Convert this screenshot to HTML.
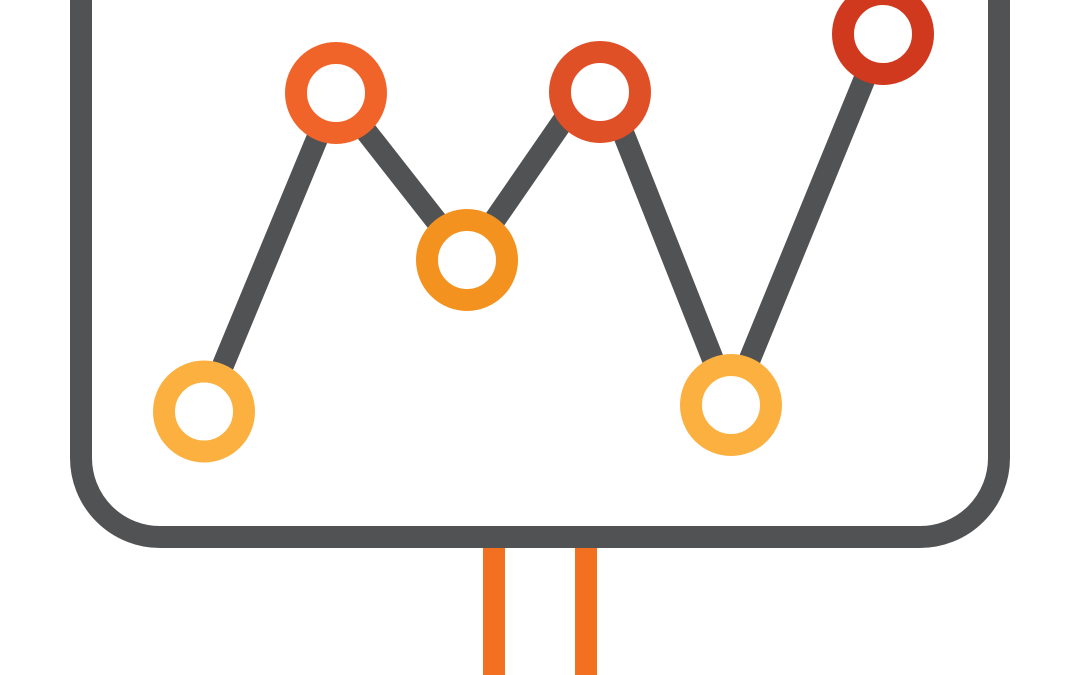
<!DOCTYPE html>
<html><head><meta charset="utf-8"><style>html,body{margin:0;padding:0;background:#fff;width:1080px;height:675px;overflow:hidden}</style></head>
<body>
<svg width="1080" height="675" viewBox="0 0 1080 675" xmlns="http://www.w3.org/2000/svg">
<rect x="483" y="540" width="22" height="140" fill="#F37021"/>
<rect x="575" y="540" width="22" height="140" fill="#F37021"/>
<path d="M81 -20 V458 A79 79 0 0 0 160 537 H920 A79 79 0 0 0 999 458 V-20" fill="none" stroke="#515254" stroke-width="22"/>
<polyline points="204,411 336,93 467,260 583,92 607,92 731,405 883,34" fill="none" stroke="#515254" stroke-width="22" stroke-linejoin="miter"/>
<g fill="#fff" stroke-width="22">
<circle cx="204" cy="411.5" r="40" stroke="#FBB040"/>
<circle cx="336" cy="93" r="40" stroke="#F0642A"/>
<circle cx="467" cy="260" r="40" stroke="#F3921F"/>
<circle cx="600" cy="92" r="40" stroke="#E05026"/>
<circle cx="731" cy="405" r="40" stroke="#FBB040"/>
<circle cx="883" cy="34" r="40" stroke="#D0391E"/>
</g>
</svg>
</body></html>
